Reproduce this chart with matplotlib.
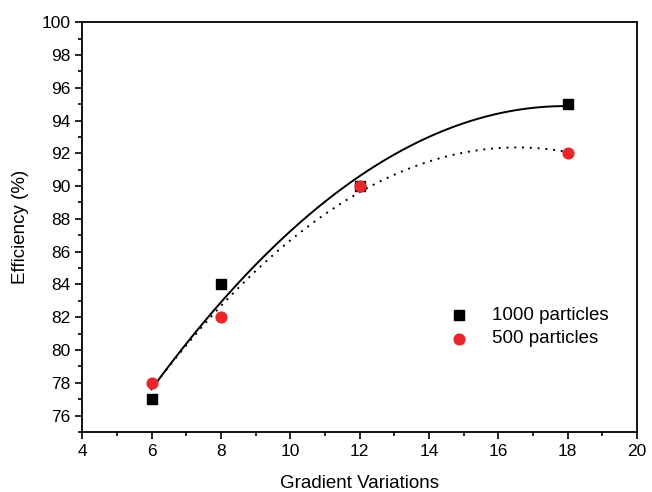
import numpy as np
import matplotlib
matplotlib.use("Agg")
import matplotlib.pyplot as plt
from matplotlib.ticker import MultipleLocator

plt.rcParams['font.family'] = ['Liberation Sans', 'DejaVu Sans']

x_vals = [6, 8, 12, 18]
eff_1000 = [77, 84, 90, 95]
eff_500 = [78, 82, 90, 92]
labels = ["1000 particles", "500 particles"]

fig = plt.figure(figsize=(6.52, 4.92), dpi=100)
ax = fig.add_axes([0.126, 0.122, 0.851, 0.833])

xs = np.linspace(6, 18, 200)
p1 = np.polyfit(x_vals, eff_1000, 2)
p2 = np.polyfit(x_vals, eff_500, 2)
ax.plot(xs, np.polyval(p1, xs), color='black', lw=1.4)
ax.plot(xs, np.polyval(p2, xs), color='black', lw=1.4, ls=(0, (1, 3)))

ax.scatter(x_vals, eff_1000, marker='s', s=50, color='black', zorder=3, label=labels[0])
ax.scatter(x_vals, eff_500, marker='o', s=60, color='#e8262b', zorder=3, label=labels[1])

ax.set_xlim(4, 20)
ax.set_ylim(75, 100)
ax.xaxis.set_major_locator(MultipleLocator(2))
ax.xaxis.set_minor_locator(MultipleLocator(1))
ax.yaxis.set_major_locator(MultipleLocator(2))
ax.yaxis.set_minor_locator(MultipleLocator(1))
ax.tick_params(which='major', direction='out', length=5, width=1.2, labelsize=12.5)
ax.tick_params(which='minor', direction='out', length=3, width=1.2)
for s in ax.spines.values():
    s.set_linewidth(1.3)

ax.set_xlabel("Gradient Variations", fontsize=13.5, labelpad=12)
ax.set_ylabel("Efficiency (%)", fontsize=13.5, labelpad=9)

ax.legend(loc='lower right', bbox_to_anchor=(0.98, 0.165), frameon=False, fontsize=13.5,
          handletextpad=0.8, labelspacing=0.35, scatterpoints=1)

fig.savefig("out.png", dpi=100)
